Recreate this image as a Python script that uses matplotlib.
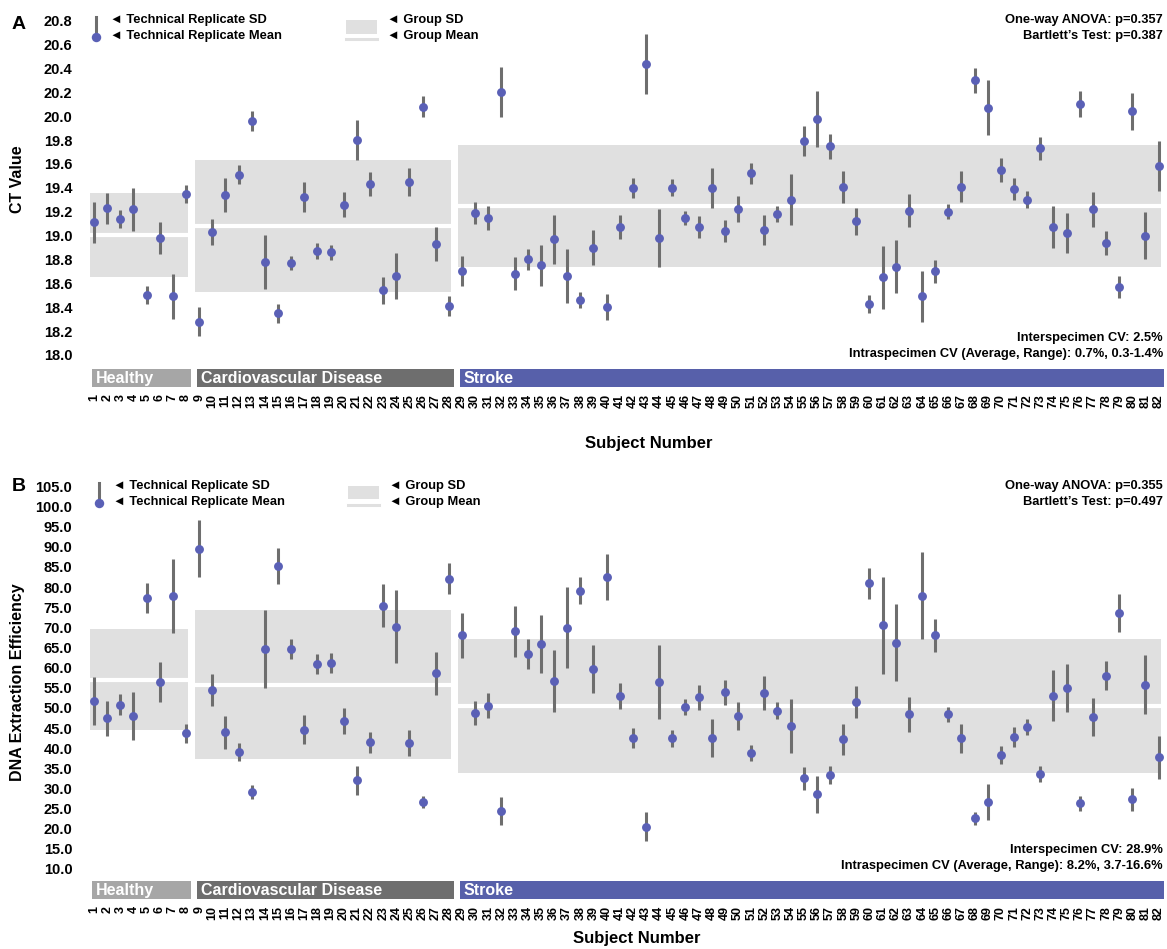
import numpy as np
import matplotlib
matplotlib.use('Agg')
import matplotlib.pyplot as plt
from matplotlib.patches import Rectangle
from matplotlib.lines import Line2D

plt.rcParams['font.family'] = ['Liberation Sans', 'DejaVu Sans']
plt.rcParams['font.weight'] = 'bold'

# ---- data ----
subjects = np.arange(1, 83)
groups = ['Healthy', 'Cardiovascular Disease', 'Stroke']
group_first = [1, 9, 29]
group_last = [8, 28, 82]
group_colors = ['#a6a6a6', '#6e6e6e', '#5760aa']

# panel A: CT value (technical replicate mean / SD)
ct_mean = [19.11, 19.23, 19.14, 19.22, 18.50, 18.98, 18.49, 19.35,
           18.28, 19.03, 19.34, 19.51, 19.96, 18.78, 18.35, 18.77, 19.32, 18.87,
           18.86, 19.26, 19.80, 19.43, 18.54, 18.66, 19.45, 20.08, 18.93, 18.41,
           18.70, 19.19, 19.15, 20.20, 18.68, 18.80, 18.75, 18.97, 18.66, 18.46,
           18.90, 18.40, 19.07, 19.40, 20.44, 18.98, 19.40, 19.15, 19.07, 19.40,
           19.04, 19.22, 19.52, 19.05, 19.18, 19.30, 19.79, 19.98, 19.75, 19.41,
           19.12, 18.43, 18.65, 18.74, 19.21, 18.49, 18.70, 19.20, 19.41, 20.30,
           20.07, 19.55, 19.39, 19.30, 19.73, 19.07, 19.02, 20.10, 19.22, 18.94,
           18.57, 20.04, 19.00, 19.58]
ct_sd = [0.175, 0.13, 0.075, 0.18, 0.075, 0.135, 0.185, 0.075,
         0.12, 0.11, 0.14, 0.08, 0.085, 0.225, 0.08, 0.055, 0.125, 0.065,
         0.065, 0.105, 0.165, 0.10, 0.11, 0.195, 0.12, 0.085, 0.14, 0.08,
         0.125, 0.09, 0.10, 0.21, 0.14, 0.09, 0.17, 0.205, 0.225, 0.065,
         0.15, 0.11, 0.10, 0.085, 0.25, 0.245, 0.07, 0.06, 0.09, 0.17,
         0.09, 0.11, 0.085, 0.125, 0.065, 0.215, 0.125, 0.235, 0.105, 0.135,
         0.115, 0.075, 0.265, 0.225, 0.14, 0.215, 0.095, 0.065, 0.13, 0.105,
         0.23, 0.10, 0.095, 0.07, 0.095, 0.175, 0.17, 0.11, 0.145, 0.10,
         0.095, 0.155, 0.20, 0.21]
ct_group_mean = [19.005, 19.08, 19.25]
ct_group_sd = [0.355, 0.55, 0.51]
ct_ticks = [18.0, 18.2, 18.4, 18.6, 18.8, 19.0, 19.2, 19.4, 19.6, 19.8,
            20.0, 20.2, 20.4, 20.6, 20.8]
ct_stats = ['One-way ANOVA: p=0.357', 'Bartlett\u2019s Test: p=0.387']
ct_cv = ['Interspecimen CV: 2.5%',
         'Intraspecimen CV (Average, Range): 0.7%, 0.3-1.4%']

# panel B: DNA extraction efficiency
dna_mean = [51.7, 47.4, 50.8, 48.0, 77.3, 56.4, 77.9, 43.7,
            89.5, 54.5, 44.0, 39.1, 29.1, 64.6, 85.2, 64.6, 44.6, 61.0,
            61.2, 46.8, 32.0, 41.5, 75.4, 70.2, 41.3, 26.6, 58.6, 82.1,
            68.0, 48.7, 50.6, 24.4, 69.0, 63.4, 65.8, 56.7, 69.9, 79.1,
            59.7, 82.5, 53.0, 42.5, 20.5, 56.4, 42.5, 50.2, 52.7, 42.5,
            53.9, 48.0, 38.9, 53.7, 49.3, 45.5, 32.5, 28.5, 33.4, 42.2,
            51.5, 80.9, 70.5, 66.2, 48.4, 77.9, 68.1, 48.4, 42.5, 22.6,
            26.6, 38.3, 42.8, 45.3, 33.6, 53.0, 54.9, 26.3, 47.7, 58.0,
            73.6, 27.3, 55.8, 37.7]
dna_sd = [6.0, 4.3, 2.6, 5.9, 3.7, 4.9, 9.2, 2.3,
          7.1, 4.0, 4.1, 2.2, 1.7, 9.7, 4.5, 2.4, 3.6, 2.5,
          2.5, 3.2, 3.6, 2.6, 5.4, 9.1, 3.2, 1.5, 5.4, 3.8,
          5.5, 3.0, 3.2, 3.5, 6.3, 3.8, 7.2, 7.6, 10.1, 3.4,
          6.0, 5.7, 3.3, 2.5, 3.6, 9.2, 2.1, 2.0, 3.1, 4.8,
          3.1, 3.5, 2.0, 4.3, 2.1, 6.7, 2.9, 4.6, 2.3, 3.8,
          4.0, 3.8, 12.1, 9.5, 4.4, 10.7, 4.1, 1.8, 3.6, 1.6,
          4.4, 2.3, 2.5, 2.0, 2.1, 6.3, 6.0, 1.9, 4.7, 3.6,
          4.8, 2.9, 7.4, 5.3]
dna_group_mean = [57.0, 55.8, 50.4]
dna_group_sd = [12.6, 18.4, 16.6]
dna_ticks = [10.0, 15.0, 20.0, 25.0, 30.0, 35.0, 40.0, 45.0, 50.0, 55.0,
             60.0, 65.0, 70.0, 75.0, 80.0, 85.0, 90.0, 95.0, 100.0, 105.0]
dna_stats = ['One-way ANOVA: p=0.355', 'Bartlett\u2019s Test: p=0.497']
dna_cv = ['Interspecimen CV: 28.9%',
          'Intraspecimen CV (Average, Range): 8.2%, 3.7-16.6%']

# ---- styling ----
W, H = 1167, 949
DOT = '#5a60b6'
BAR = '#6e6e6e'
BAND = '#e0e0e0'
XLIM = (-0.065, 82.56)

fig = plt.figure(figsize=(W / 100, H / 100), dpi=100)


def box(left, top, right, bottom):
    return [left / W, 1 - bottom / H, (right - left) / W, (bottom - top) / H]


def fx(px):
    return px / W


def fy(py):
    return 1 - py / H


def panel(top, bottom, strip_top, ylim, ticks, fmt, mean, sd, gmean, gsd,
          ylabel, ylabel_y, letter, letter_y, leg, stats, cv, xlabel_pos):
    ax = fig.add_axes(box(80, top, 1166, bottom))
    ax.set_xlim(*XLIM)
    ax.set_ylim(*ylim)
    for s in ax.spines.values():
        s.set_visible(False)
    ax.set_xticks([])
    ax.set_yticks(ticks)
    ax.set_yticklabels([fmt % t for t in ticks], fontsize=10.5, fontweight='bold')
    ax.tick_params(axis='y', length=0, pad=5.5)

    # group SD bands and group means
    for g in range(3):
        x0, x1 = group_first[g] - 0.3, group_last[g] + 0.18
        ax.fill_between([x0, x1], gmean[g] - gsd[g], gmean[g] + gsd[g],
                        color=BAND, lw=0, zorder=0)
        ax.plot([x0, x1], [gmean[g], gmean[g]], color='white', lw=3, zorder=1,
                solid_capstyle='butt')

    m = np.array(mean)
    e = np.array(sd)
    ax.vlines(subjects, m - e, m + e, color=BAR, lw=2.2, zorder=2)
    ax.plot(subjects, m, 'o', color=DOT, ms=6.4, mec='none', zorder=3)

    # group strip with subject numbers
    sx = fig.add_axes(box(80, strip_top, 1166, strip_top + 18))
    sx.set_xlim(*XLIM)
    sx.set_ylim(0, 1)
    for s in sx.spines.values():
        s.set_visible(False)
    sx.set_yticks([])
    for g in range(3):
        x0, x1 = group_first[g] - 0.18, group_last[g] + 0.38
        sx.add_patch(Rectangle((x0, 0), x1 - x0, 1, color=group_colors[g], lw=0))
        sx.text(x0 + 0.32, 0.45, groups[g], color='white', fontsize=11.5,
                fontweight='bold', va='center', ha='left')
    sx.set_xticks(subjects)
    sx.set_xticklabels([str(s) for s in subjects], rotation=90, fontsize=9,
                       fontweight='bold')
    sx.tick_params(axis='x', length=0, pad=5)

    fig.text(fx(xlabel_pos[0]), fy(xlabel_pos[1]), 'Subject Number', fontsize=12,
             fontweight='bold', ha='center', va='center')
    fig.text(fx(18), fy(ylabel_y), ylabel, fontsize=11.5, fontweight='bold',
             rotation=90, ha='center', va='center')
    fig.text(fx(19), fy(letter_y), letter, fontsize=14, fontweight='bold',
             ha='center', va='center')

    # hand-made legend
    lx, ly1, ly2, gx, gy = leg
    fig.add_artist(Line2D([fx(lx), fx(lx)], [fy(ly1 - 4), fy(ly1 + 10)],
                          color=BAR, lw=2.2))
    fig.add_artist(Line2D([fx(lx)], [fy(ly2)], marker='o', color=DOT, ms=6.8,
                          mec='none', lw=0))
    fig.text(fx(lx + 14), fy(ly1), '\u25c4 Technical Replicate SD', fontsize=9.3,
             fontweight='bold', va='center', ha='left')
    fig.text(fx(lx + 14), fy(ly2), '\u25c4 Technical Replicate Mean', fontsize=9.3,
             fontweight='bold', va='center', ha='left')
    fig.add_artist(Rectangle((fx(gx), fy(gy + 13.5)), 31 / W, 13.5 / H,
                             color=BAND, lw=0, transform=fig.transFigure))
    fig.add_artist(Line2D([fx(gx), fx(gx + 31)], [fy(gy + 19), fy(gy + 19)],
                          color=BAND, lw=2.2))
    fig.text(fx(gx + 41), fy(ly1), '\u25c4 Group SD', fontsize=9.3,
             fontweight='bold', va='center', ha='left')
    fig.text(fx(gx + 41), fy(ly2), '\u25c4 Group Mean', fontsize=9.3,
             fontweight='bold', va='center', ha='left')

    fig.text(fx(1163), fy(ly1), stats[0], fontsize=9.3, fontweight='bold',
             ha='right', va='center')
    fig.text(fx(1163), fy(ly1 + 16), stats[1], fontsize=9.3, fontweight='bold',
             ha='right', va='center')
    fig.text(fx(1163), fy(strip_top - 31), cv[0], fontsize=9.3, fontweight='bold',
             ha='right', va='center')
    fig.text(fx(1163), fy(strip_top - 15.5), cv[1], fontsize=9.3,
             fontweight='bold', ha='right', va='center')


panel(14, 362, 369, (17.941, 20.856), ct_ticks, '%.1f', ct_mean, ct_sd,
      ct_group_mean, ct_group_sd, 'CT Value', 179, 'A', 24.5,
      (96, 20.5, 36.5, 345.7, 20), ct_stats, ct_cv, (649, 443))

panel(480, 876, 881, (8.26, 106.6), dna_ticks, '%.1f', dna_mean, dna_sd,
      dna_group_mean, dna_group_sd, 'DNA Extraction Efficiency', 681.7, 'B', 486.3,
      (99, 486.5, 502.5, 348, 485.7), dna_stats, dna_cv, (637, 939))

fig.savefig('out.png', dpi=100)
